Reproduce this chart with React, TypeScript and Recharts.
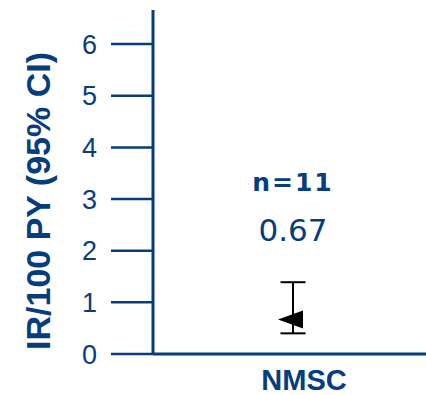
import React from 'react';
import { ComposedChart, ErrorBar, LabelList, Scatter, XAxis, YAxis } from 'recharts';

const categories = ['NMSC'];
const rates = [0.67];
const ciLow = [0.4];
const ciHigh = [1.39];
const counts = [11];
const yTicks = [0, 1, 2, 3, 4, 5, 6];

const BLUE = '#063d7c';

const data = categories.map((name, i) => ({
    name,
    rate: rates[i],
    n: counts[i],
    err: [rates[i] - ciLow[i], ciHigh[i] - rates[i]]
}));

const Triangle = (props: any) => {
    const { cx, cy } = props;
    return <path d={`M${cx - 15},${cy} L${cx + 10},${cy - 9} L${cx + 10},${cy + 9} Z`} fill="#000" />;
};

const PointLabels = (props: any) => {
    const { x, y, width, index } = props;
    const cx = x + (width || 0) / 2;
    return (
        <g fontFamily="DejaVu Sans, Verdana, sans-serif" fill={BLUE} textAnchor="middle">
            <text x={cx} y={y - 124} fontSize={25} fontWeight="bold" letterSpacing={2}>
                n={counts[index]}
            </text>
            <text x={cx} y={y - 74} fontSize={31}>
                {rates[index].toFixed(2)}
            </text>
        </g>
    );
};

const XTick = (props: any) => {
    const { x, y, payload } = props;
    return (
        <text x={x + 11} y={y} dy="0.71em" textAnchor="middle" fill={BLUE} fontSize={29} fontWeight="bold"
            fontFamily="Liberation Sans, Arial, sans-serif">
            {payload.value}
        </text>
    );
};

const YTick = (props: any) => {
    const { x, y, payload } = props;
    return (
        <text x={x} y={y} dy="0.355em" textAnchor="end" fill={BLUE} fontSize={27}
            fontFamily="Liberation Sans, Arial, sans-serif">
            {payload.value}
        </text>
    );
};

const YLabel = (props: any) => {
    const { viewBox } = props;
    const cy = viewBox.y + viewBox.height / 2 + 19;
    return (
        <text x={50} y={cy} transform={`rotate(-90, 50, ${cy})`} textAnchor="middle" fill={BLUE}
            fontSize={34} fontWeight="bold" fontFamily="Liberation Sans, Arial, sans-serif">
            IR/100 PY (95% CI)
        </text>
    );
};

export default function App() {
    return (
        <div style={{ position: 'absolute', left: 0, top: 0, width: 426, height: 395, background: '#fff' }}>
            <ComposedChart width={426} height={395} data={data} margin={{ top: 10, right: 0, bottom: 0, left: 0 }}>
                <XAxis
                    dataKey="name"
                    type="category"
                    height={41}
                    padding={{ left: 7, right: 0 }}
                    axisLine={{ stroke: BLUE, strokeWidth: 3 }}
                    tickLine={false}
                    tickSize={0}
                    tickMargin={15}
                    tick={<XTick />}
                />
                <YAxis
                    type="number"
                    domain={[0, 6.66]}
                    ticks={yTicks}
                    width={153}
                    axisLine={{ stroke: BLUE, strokeWidth: 3 }}
                    tickLine={{ stroke: BLUE, strokeWidth: 2.5 }}
                    tickSize={42}
                    tickMargin={14}
                    tick={<YTick />}
                    label={<YLabel />}
                />
                <Scatter dataKey="rate" shape={<Triangle />} isAnimationActive={false}>
                    <ErrorBar dataKey="err" direction="y" width={12.5} stroke="#000" strokeWidth={2} />
                    <LabelList dataKey="rate" content={<PointLabels />} />
                </Scatter>
            </ComposedChart>
        </div>
    );
}
